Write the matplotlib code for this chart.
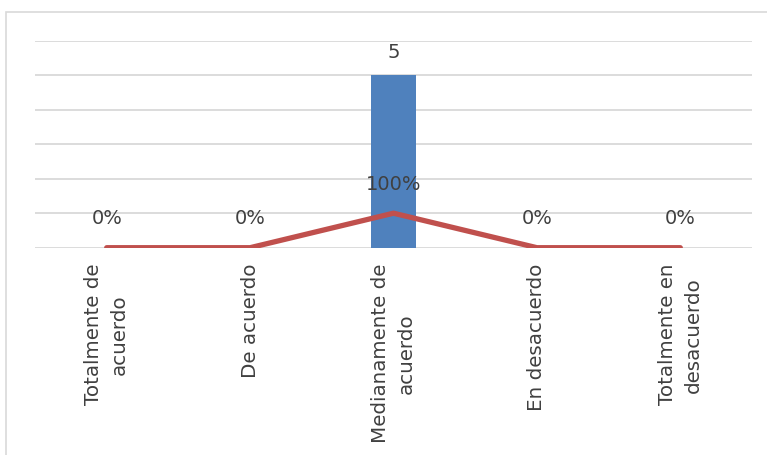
import matplotlib
matplotlib.use('Agg')
import matplotlib.pyplot as plt
from matplotlib.patches import Rectangle

plt.rcParams['font.family'] = ['DejaVu Sans']

categorias = ['Totalmente de\nacuerdo', 'De acuerdo', 'Medianamente de\nacuerdo',
              'En desacuerdo', 'Totalmente en\ndesacuerdo']
frecuencia = [0, 0, 5, 0, 0]
porcentaje = [0.0, 0.0, 1.0, 0.0, 0.0]

W, H = 767, 456
fig = plt.figure(figsize=(W / 100, H / 100), dpi=100, facecolor='white')

# marco del gráfico (recortado a la derecha y abajo)
fig.patches.append(Rectangle((6 / W, -0.1), 1.1, 1 - 13 / H + 0.1,
                             transform=fig.transFigure, fill=False,
                             edgecolor='#D9D9D9', linewidth=1.2))

ax = fig.add_axes([35 / W, 1 - 248.7 / H, (752 - 35) / W, (248.7 - 41.7) / H])
x = list(range(len(categorias)))

ax.bar(x, frecuencia, width=0.32, color='#4F81BD', zorder=2)
ax.plot(x, porcentaje, color='#C0504D', linewidth=3.8, solid_capstyle='round', zorder=3)

ax.set_xlim(-0.5, len(categorias) - 0.5)
ax.set_ylim(0, 6)
ax.set_yticks(range(0, 7))
ax.yaxis.grid(True, color='#D9D9D9', linewidth=1.3, zorder=0)
ax.set_axisbelow(True)
ax.tick_params(axis='y', left=False, labelleft=False)
ax.tick_params(axis='x', length=0, pad=11)
for s in ax.spines.values():
    s.set_visible(False)

ax.set_xticks(x)
ax.set_xticklabels(categorias, rotation=90, ha='center', va='top',
                   multialignment='center', fontsize=14.3, color='#404040',
                   linespacing=1.45)

# etiquetas de datos
for xi, v in zip(x, frecuencia):
    if v:
        ax.annotate(f'{v}', xy=(xi, v), xytext=(0, 13), textcoords='offset points',
                    ha='center', va='baseline', fontsize=14, color='#404040', zorder=4)
for xi, p in zip(x, porcentaje):
    ax.annotate(f'{p:.0%}', xy=(xi, p), xytext=(0, 17.5), textcoords='offset points',
                ha='center', va='baseline', fontsize=14, color='#404040', zorder=4)

fig.savefig('out.png', dpi=100, facecolor='white')
